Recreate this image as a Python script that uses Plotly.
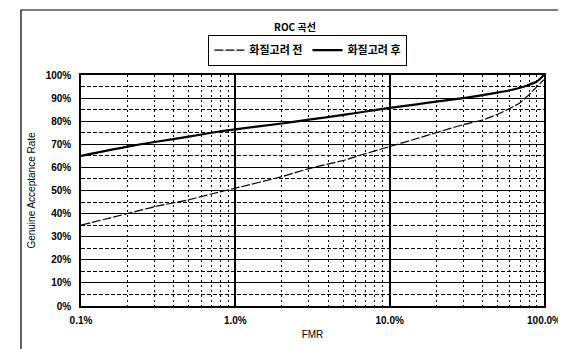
import plotly.graph_objects as go

# FMR (%) sample points
fmr = [0.1, 0.2, 0.3, 0.5, 0.7, 1, 2, 3, 5, 7, 10, 15, 20, 30, 40, 50, 60, 70, 80, 90, 100]
# Genuine Acceptance Rate (%) before quality consideration
gar_before = [35, 40, 43, 46, 48.5, 51, 56, 59.5, 63, 66, 69, 72.5, 75, 78.5, 80.5, 83, 85.5, 88, 91.5, 95, 98]
# Genuine Acceptance Rate (%) after quality consideration
gar_after = [65, 69, 71, 73.3, 75, 76.5, 79, 80.7, 82.7, 84.2, 85.8, 87.3, 88.5, 90, 91.3, 92.4, 93.4, 94.5, 95.8, 97.2, 100]

series_names = ["화질고려 전", "화질고려 후"]
x_tickvals = [0.1, 1, 10, 100]
x_ticktext = ["0.1%", "1.0%", "10.0%", "100.0%"]
y_tickvals = [0, 10, 20, 30, 40, 50, 60, 70, 80, 90, 100]
y_ticktext = [f"{v}%" for v in y_tickvals]

KR = "Noto Sans CJK KR"
LAT = "Liberation Sans"

fig = go.Figure()
fig.add_trace(go.Scatter(x=fmr, y=gar_before, mode="lines", name=series_names[0],
                         line=dict(color="black", width=1.2, dash="9px,2px",
                                   shape="spline", smoothing=0.6)))
fig.add_trace(go.Scatter(x=fmr, y=gar_after, mode="lines", name=series_names[1],
                         line=dict(color="black", width=2.2,
                                   shape="spline", smoothing=0.6)))

fig.update_layout(
    width=566, height=349,
    margin=dict(l=73, r=30, t=67, b=51, autoexpand=False),
    paper_bgcolor="white", plot_bgcolor="white",
    title=dict(text="<b>ROC 곡선</b>", x=0.507, xref="container", y=0.943, yref="container",
               xanchor="center", yanchor="middle",
               font=dict(family=KR, size=10, color="black")),
    legend=dict(orientation="h", x=0.49, y=1.108, xref="paper", yref="paper",
                xanchor="center", yanchor="middle",
                bgcolor="white", bordercolor="black", borderwidth=1,
                font=dict(family=KR, size=11, color="black", weight="bold"),
                itemwidth=30, tracegroupgap=0),
    font=dict(family=LAT, size=10, color="black"),
    showlegend=True,
)

fig.update_xaxes(
    type="log", range=[-1, 2], automargin=False,
    tickvals=x_tickvals, ticktext=x_ticktext,
    tickfont=dict(family=LAT, size=10, color="black", weight="bold"),
    showgrid=True, gridcolor="black", gridwidth=2,
    showline=True, linecolor="black", linewidth=1.5, mirror=True,
    ticks="", ticklabelstandoff=4,
    minor=dict(dtick="D1", showgrid=True, gridcolor="black", gridwidth=1,
               griddash="2px,3px", ticks=""),
    title=dict(text="FMR", font=dict(family=LAT, size=10, color="black"), standoff=6),
    zeroline=False,
)
fig.update_yaxes(
    range=[0, 100], automargin=False,
    tickvals=y_tickvals, ticktext=y_ticktext,
    tickfont=dict(family=LAT, size=10, color="black", weight="bold"),
    showgrid=True, gridcolor="black", gridwidth=1.3,
    showline=True, linecolor="black", linewidth=1.5, mirror=True,
    ticks="", ticklabelstandoff=6,
    minor=dict(dtick=5, showgrid=True, gridcolor="black", gridwidth=1,
               griddash="4px,2px", ticks=""),
    title=dict(text="Genuine Acceptance Rate", font=dict(family=LAT, size=10, color="black"), standoff=8),
    zeroline=False,
)

# outer chart frame
fig.add_shape(type="rect", xref="paper", yref="paper",
              x0=-0.1296, x1=1.0605, y0=-0.2035, y1=1.2814,
              line=dict(color="black", width=1.2), fillcolor="rgba(0,0,0,0)", layer="below")

fig.write_html("out.html")
